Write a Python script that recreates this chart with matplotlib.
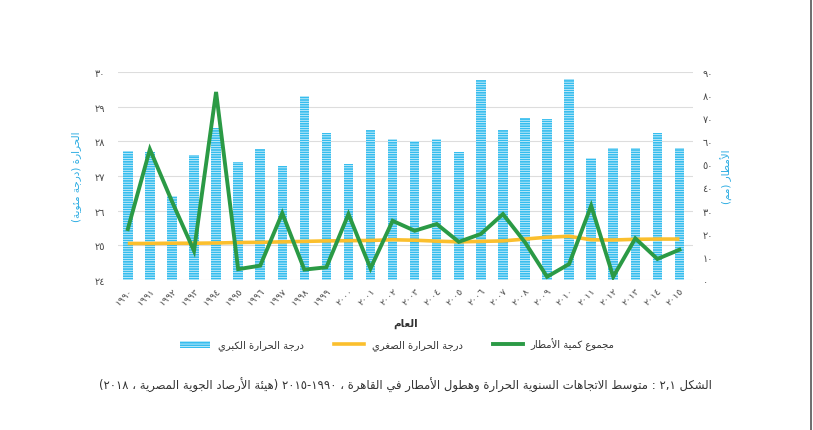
import matplotlib
matplotlib.use("Agg")
import matplotlib.pyplot as plt
import numpy as np
from matplotlib.patches import Patch
from matplotlib.lines import Line2D

plt.rcParams["font.family"] = ["DejaVu Sans"]

years = list(range(1990, 2016))
max_temp = [27.71, 27.70, 26.43, 27.60, 28.38, 27.39, 27.78, 27.28, 29.31, 28.23,
            27.34, 28.32, 28.06, 28.01, 28.06, 27.68, 29.76, 28.32, 28.67, 28.64,
            29.79, 27.52, 27.80, 27.80, 28.23, 27.80]
min_temp = [15.8, 15.8, 15.9, 15.9, 16.0, 16.2, 16.3, 16.5, 16.7, 16.9,
            17.0, 17.1, 17.4, 17.2, 16.8, 16.5, 16.7, 16.9, 17.7, 18.5,
            18.9, 17.4, 17.3, 17.6, 17.7, 17.7]
rain = [22.0, 56.5, 34.0, 12.6, 81.3, 4.7, 6.2, 28.9, 4.5, 5.5,
        28.5, 5.0, 25.6, 21.3, 24.2, 16.5, 19.9, 28.5, 16.3, 1.4,
        6.9, 32.1, 1.4, 18.0, 9.1, 13.1]
left_ticks = [24, 25, 26, 27, 28, 29, 30]
right_ticks = [0, 10, 20, 30, 40, 50, 60, 70, 80, 90]

label_max = "درجة الحرارة الكبري"
label_min = "درجة الحرارة الصغري"
label_rain = "مجموع كمية الأمطار"
ylabel_left = "الحرارة (درجة مئوية)"
ylabel_right = "الأمطار (مم)"
xlabel = "العام"
caption = "الشكل ٢,١ : متوسط الاتجاهات السنوية الحرارة وهطول الأمطار في القاهرة ، ١٩٩٠-٢٠١٥ (هيئة الأرصاد الجوية المصرية ، ٢٠١٨)"

# --- minimal arabic shaping (matplotlib has no complex text layout) ---
def _rng(a, n):
    return tuple(chr(a + k) for k in range(n))

FORMS = {
    "ء": _rng(0xFE80, 1), "آ": _rng(0xFE81, 2), "أ": _rng(0xFE83, 2),
    "ؤ": _rng(0xFE85, 2), "إ": _rng(0xFE87, 2), "ئ": _rng(0xFE89, 4),
    "ا": _rng(0xFE8D, 2), "ب": _rng(0xFE8F, 4), "ة": _rng(0xFE93, 2),
    "ت": _rng(0xFE95, 4), "ث": _rng(0xFE99, 4), "ج": _rng(0xFE9D, 4),
    "ح": _rng(0xFEA1, 4), "خ": _rng(0xFEA5, 4), "د": _rng(0xFEA9, 2),
    "ذ": _rng(0xFEAB, 2), "ر": _rng(0xFEAD, 2), "ز": _rng(0xFEAF, 2),
    "س": _rng(0xFEB1, 4), "ش": _rng(0xFEB5, 4), "ص": _rng(0xFEB9, 4),
    "ض": _rng(0xFEBD, 4), "ط": _rng(0xFEC1, 4), "ظ": _rng(0xFEC5, 4),
    "ع": _rng(0xFEC9, 4), "غ": _rng(0xFECD, 4), "ف": _rng(0xFED1, 4),
    "ق": _rng(0xFED5, 4), "ك": _rng(0xFED9, 4), "ل": _rng(0xFEDD, 4),
    "م": _rng(0xFEE1, 4), "ن": _rng(0xFEE5, 4), "ه": _rng(0xFEE9, 4),
    "و": _rng(0xFEED, 2), "ى": _rng(0xFEEF, 2), "ي": _rng(0xFEF1, 4),
}
LAM_ALEF = {"آ": 0xFEF5, "أ": 0xFEF7, "إ": 0xFEF9, "ا": 0xFEFB}
DIGITS = "٠١٢٣٤٥٦٧٨٩0123456789"


def ar(text):
    chars = list(text)
    out = []
    i = 0
    while i < len(chars):
        c = chars[i]
        if c not in FORMS:
            out.append(c)
            i += 1
            continue
        prev = chars[i - 1] if i > 0 else None
        joins_prev = prev in FORMS and len(FORMS[prev]) == 4 and len(FORMS[c]) > 1
        nxt = chars[i + 1] if i + 1 < len(chars) else None
        if c == "ل" and nxt in LAM_ALEF:
            out.append(chr(LAM_ALEF[nxt] + (1 if joins_prev else 0)))
            i += 2
            continue
        joins_next = len(FORMS[c]) == 4 and nxt in FORMS and len(FORMS[nxt]) > 1
        f = FORMS[c]
        if joins_prev and joins_next:
            out.append(f[3])
        elif joins_prev:
            out.append(f[1])
        elif joins_next:
            out.append(f[2])
        else:
            out.append(f[0])
        i += 1
    s = "".join(out)
    # visual order: reverse, keep digit runs LTR, mirror brackets
    tokens = []
    j = 0
    while j < len(s):
        if s[j] in DIGITS:
            k = j
            while k < len(s) and (s[k] in DIGITS or (s[k] in ",." and k + 1 < len(s) and s[k + 1] in DIGITS)):
                k += 1
            tokens.append(s[j:k])
            j = k
        else:
            tokens.append(s[j])
            j += 1
    mirror = {"(": ")", ")": "("}
    return "".join(mirror.get(t, t) for t in reversed(tokens))


def ind(n):
    return str(n).translate(str.maketrans("0123456789", "٠١٢٣٤٥٦٧٨٩"))


bar_color = "#36bdee"
blue_text = "#29abe2"
green = "#2b9a45"
yellow = "#fbbf2d"
tick_color = "#4a4a4a"

plt.rcParams["hatch.linewidth"] = 0.45

fig = plt.figure(figsize=(8.13, 4.31), dpi=100)
ax = fig.add_axes([0.145, 0.348, 0.707, 0.483])
ax2 = ax.twinx()

x = np.arange(len(years))
ax.bar(x, [v - left_ticks[0] for v in max_temp], 0.43, bottom=left_ticks[0],
       color=bar_color, edgecolor="white", linewidth=0, hatch="-------", zorder=2)
ax2.plot(x, min_temp, color=yellow, lw=2.6, solid_capstyle="butt", zorder=3)
ax2.plot(x, rain, color=green, lw=2.8, solid_joinstyle="miter", zorder=4)

ax.set_xlim(-0.45, 25.6)
ax.set_ylim(left_ticks[0], left_ticks[-1])
ax2.set_ylim(right_ticks[0], right_ticks[-1])
ax.set_yticks(left_ticks)
ax.set_yticklabels([ind(t) for t in left_ticks])
ax2.set_yticks(right_ticks)
ax2.set_yticklabels([ind(t) for t in right_ticks])
ax.set_xticks(x)
ax.set_xticklabels([ind(y) for y in years], rotation=45, ha="right",
                   rotation_mode="anchor", fontsize=6.8, color=tick_color)
ax.tick_params(axis="y", length=0, pad=9, labelsize=7, labelcolor=tick_color)
ax2.tick_params(axis="y", length=0, pad=7, labelsize=7, labelcolor=tick_color)
ax.tick_params(axis="x", length=0, pad=4)
ax.grid(True, axis="y", color="#dddddd", lw=0.8, zorder=0)
ax.set_axisbelow(True)
for a in (ax, ax2):
    for sp in a.spines.values():
        sp.set_visible(False)

ax.set_ylabel(ar(ylabel_left), color=blue_text, fontsize=7.5, labelpad=10)
ax2.set_ylabel(ar(ylabel_right), color=blue_text, fontsize=7.5, rotation=90, labelpad=6)
ax.set_xlabel(ar(xlabel), fontsize=7.5, color="#333333", fontweight="bold", labelpad=8)

handles = [
    Patch(facecolor=bar_color, edgecolor="white", linewidth=0, hatch="-------"),
    Line2D([0], [0], color=yellow, lw=2.6),
    Line2D([0], [0], color=green, lw=2.8),
]
fig.legend(handles, [ar(label_max), ar(label_min), ar(label_rain)],
           loc="center", bbox_to_anchor=(397 / 813, 1 - 345 / 431), ncol=3,
           frameon=False, fontsize=7.2, handlelength=3.0, handletextpad=0.8,
           columnspacing=3.0, labelcolor="#333333")

fig.text(712 / 813, 1 - 385 / 431, ar(caption), ha="right", va="center",
         fontsize=8.4, color="#333333")

fig.add_artist(Line2D([811 / 813, 811 / 813], [0, 1], color="#555555", lw=1.2))

fig.savefig("out.png", dpi=100)
